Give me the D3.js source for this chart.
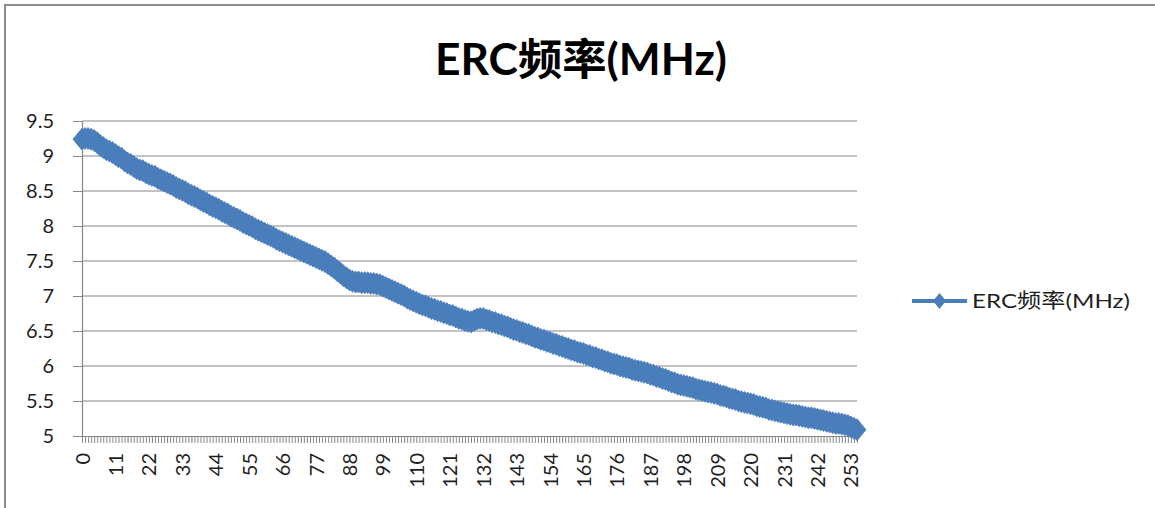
<!DOCTYPE html>
<html>
<head>
<meta charset="utf-8">
<script src="https://cdn.jsdelivr.net/npm/d3@7"></script>
<style>
  body { margin: 0; background: #fff; }
  text { font-family: Lato, "Noto Sans CJK SC", sans-serif; }
</style>
</head>
<body>
<div id="ercChart"></div>
<script>
var titleText = "ERC频率(MHz)";
var seriesName = "ERC频率(MHz)";

// measured frequency, one value per code 0..255
var ercFreq = [
  9.24, 9.25, 9.25, 9.24, 9.22, 9.19, 9.15, 9.12, 9.09, 9.07,
  9.05, 9.02, 8.99, 8.97, 8.93, 8.90, 8.88, 8.85, 8.82, 8.80,
  8.79, 8.76, 8.74, 8.72, 8.71, 8.68, 8.66, 8.64, 8.62, 8.60,
  8.58, 8.55, 8.53, 8.51, 8.49, 8.46, 8.44, 8.42, 8.40, 8.37,
  8.35, 8.33, 8.30, 8.28, 8.26, 8.24, 8.21, 8.19, 8.17, 8.14,
  8.12, 8.10, 8.08, 8.05, 8.03, 8.01, 7.99, 7.96, 7.94, 7.92,
  7.90, 7.88, 7.86, 7.84, 7.81, 7.79, 7.77, 7.75, 7.73, 7.71,
  7.69, 7.67, 7.65, 7.63, 7.61, 7.59, 7.57, 7.55, 7.53, 7.51,
  7.49, 7.46, 7.43, 7.40, 7.36, 7.33, 7.29, 7.26, 7.23, 7.21,
  7.20, 7.20, 7.19, 7.19, 7.19, 7.18, 7.18, 7.17, 7.16, 7.14,
  7.12, 7.10, 7.08, 7.06, 7.04, 7.02, 7.00, 6.97, 6.95, 6.93,
  6.91, 6.89, 6.87, 6.86, 6.84, 6.82, 6.81, 6.79, 6.78, 6.76,
  6.75, 6.73, 6.72, 6.70, 6.68, 6.67, 6.65, 6.64, 6.63, 6.65,
  6.67, 6.68, 6.68, 6.66, 6.65, 6.63, 6.62, 6.60, 6.59, 6.57,
  6.56, 6.54, 6.52, 6.51, 6.49, 6.48, 6.46, 6.45, 6.43, 6.41,
  6.40, 6.38, 6.37, 6.35, 6.34, 6.32, 6.31, 6.29, 6.28, 6.26,
  6.25, 6.23, 6.22, 6.20, 6.19, 6.18, 6.16, 6.15, 6.13, 6.12,
  6.10, 6.09, 6.07, 6.06, 6.04, 6.03, 6.02, 6.00, 5.99, 5.98,
  5.97, 5.95, 5.94, 5.93, 5.92, 5.91, 5.90, 5.88, 5.87, 5.85,
  5.84, 5.82, 5.81, 5.79, 5.77, 5.76, 5.74, 5.73, 5.72, 5.71,
  5.70, 5.69, 5.67, 5.66, 5.65, 5.64, 5.63, 5.62, 5.61, 5.60,
  5.58, 5.57, 5.56, 5.54, 5.53, 5.52, 5.50, 5.49, 5.48, 5.47,
  5.46, 5.45, 5.43, 5.42, 5.41, 5.40, 5.38, 5.37, 5.36, 5.35,
  5.34, 5.33, 5.32, 5.31, 5.30, 5.30, 5.29, 5.28, 5.27, 5.26,
  5.26, 5.25, 5.24, 5.23, 5.22, 5.21, 5.20, 5.19, 5.18, 5.18,
  5.17, 5.16, 5.15, 5.13, 5.11, 5.09
];

// category codes on the x axis
var codes = d3.range(ercFreq.length);

var xTickLabels = [0, 11, 22, 33, 44, 55, 66, 77, 88, 99, 110, 121, 132,
                   143, 154, 165, 176, 187, 198, 209, 220, 231, 242, 253];
var yTicks = [5, 5.5, 6, 6.5, 7, 7.5, 8, 8.5, 9, 9.5];

var W = 1155, H = 508;
var plotLeft = 82, plotRight = 857, plotTop = 121, plotBottom = 436;
var blue = "#4a7ebb";
var gridColor = "#878787";

var svg = d3.select("#ercChart")
  .append("svg")
    .attr("width", W)
    .attr("height", H);

// chart frame (only top and left edge are in view)
svg.append("path")
  .attr("d", "M5," + H + "V5H" + W)
  .attr("fill", "none")
  .attr("stroke", "#8c8c8c")
  .attr("stroke-width", 2);

var x = d3.scalePoint()
  .domain(codes)
  .range([plotLeft, plotRight]);

var y = d3.scaleLinear()
  .domain([5, 9.5])
  .range([plotBottom, plotTop]);

// horizontal gridlines
svg.selectAll(".grid")
  .data(yTicks.slice(1))
  .enter()
  .append("line")
    .attr("x1", plotLeft)
    .attr("x2", plotRight)
    .attr("y1", function(d){ return y(d); })
    .attr("y2", function(d){ return y(d); })
    .attr("stroke", gridColor)
    .attr("stroke-width", 1.2);

var yAxis = svg.append("g")
  .attr("transform", "translate(" + plotLeft + ",0)")
  .call(d3.axisLeft(y)
          .tickValues(yTicks)
          .tickSize(9)
          .tickPadding(19)
          .tickSizeOuter(0)
          .tickFormat(function(d){ return String(d); }));

var xAxis = svg.append("g")
  .attr("transform", "translate(0," + plotBottom + ")")
  .call(d3.axisBottom(x)
          .tickValues(codes)
          .tickSize(7)
          .tickSizeOuter(0)
          .tickFormat(function(d){ return xTickLabels.indexOf(d) >= 0 ? d : ""; }));

xAxis.selectAll("text")
  .attr("transform", "rotate(-90)")
  .attr("x", -17)
  .attr("y", 0)
  .attr("dy", "0.35em")
  .style("text-anchor", "end");

[yAxis, xAxis].forEach(function(g){
  g.select(".domain").attr("stroke", gridColor).attr("stroke-width", 1.2);
  g.selectAll(".tick line").attr("stroke", gridColor).attr("stroke-width", 1);
  g.selectAll("text")
    .attr("fill", "#1e1e1e")
    .style("font-size", "20px");
});

// series line + diamond markers
var line = d3.line()
  .x(function(d, i){ return x(codes[i]); })
  .y(function(d){ return y(d); });

svg.append("path")
  .datum(ercFreq)
  .attr("d", line)
  .attr("fill", "none")
  .attr("stroke", blue)
  .attr("stroke-width", 4);

var diamond = "M0,-11L9,0L0,11L-9,0Z";

svg.selectAll(".marker")
  .data(ercFreq)
  .enter()
  .append("path")
    .attr("d", diamond)
    .attr("transform", function(d, i){ return "translate(" + x(codes[i]) + "," + y(d) + ")"; })
    .attr("fill", blue)
    .attr("stroke", blue)
    .attr("stroke-width", 0.8);

// title
svg.append("text")
  .attr("x", 581)
  .attr("y", 75)
  .attr("text-anchor", "middle")
  .attr("textLength", 292)
  .attr("lengthAdjust", "spacingAndGlyphs")
  .style("font-size", "43px")
  .style("font-weight", "bold")
  .attr("fill", "#000")
  .text(titleText);

// legend
var legend = svg.append("g")
  .attr("transform", "translate(912,301)");

legend.append("line")
  .attr("x1", 0)
  .attr("x2", 55)
  .attr("stroke", blue)
  .attr("stroke-width", 4);

legend.append("path")
  .attr("d", "M0,-8L6.5,0L0,8L-6.5,0Z")
  .attr("transform", "translate(27.5,0)")
  .attr("fill", blue);

legend.append("text")
  .attr("x", 60)
  .attr("y", 7)
  .attr("textLength", 158)
  .attr("lengthAdjust", "spacingAndGlyphs")
  .style("font-size", "20px")
  .attr("fill", "#1e1e1e")
  .text(seriesName);
</script>
</body>
</html>
